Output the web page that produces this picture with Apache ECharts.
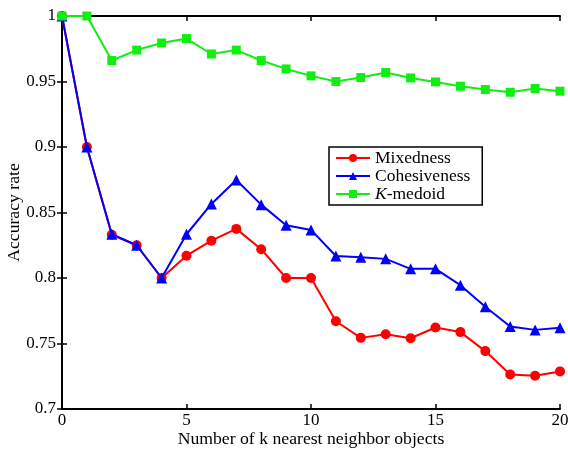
<!DOCTYPE html>
<html><head><meta charset="utf-8">
<script src="https://cdn.jsdelivr.net/npm/echarts@6/dist/echarts.min.js"></script>
<style>html,body{margin:0;padding:0;background:#fff}#c{width:568px;height:451px}</style>
</head><body><div id="c"></div>
<script>
const kValues = [0,1,2,3,4,5,6,7,8,9,10,11,12,13,14,15,16,17,18,19,20];
const mixedness = [1.0,0.9,0.833,0.825,0.8,0.817,0.8285,0.8375,0.822,0.8,0.8,0.767,0.7543,0.757,0.754,0.7622,0.7587,0.7442,0.7264,0.7254,0.7287];
const cohesiveness = [1.0,0.9,0.8334,0.825,0.8,0.8334,0.8565,0.8748,0.856,0.8403,0.8367,0.8168,0.8158,0.8146,0.807,0.807,0.7945,0.778,0.763,0.7604,0.762];
const kmedoid = [1.0,1.0,0.966,0.974,0.9794,0.9828,0.971,0.974,0.966,0.9596,0.9543,0.950,0.953,0.9569,0.9527,0.9497,0.9464,0.9439,0.9418,0.9447,0.9426];
const seriesNames = ['Mixedness','Cohesiveness','K-medoid'];
const xTitle = 'Number of k nearest neighbor objects';
const yTitle = 'Accuracy rate';

const font = 'Liberation Serif, Times New Roman, serif';
const chart = echarts.init(document.getElementById('c'), null, {renderer:'canvas'});
const pair = arr => arr.map((v,i)=>[kValues[i], v]);
const axisLine = {show:true, lineStyle:{color:'#000', width:2}};
const tick = {show:true, inside:true, length:5, lineStyle:{color:'#000', width:1.5}};
chart.setOption({
  animation:false,
  backgroundColor:'#fff',
  grid:{left:62, right:8, top:16, bottom:42, containLabel:false, outerBoundsMode:'none'},
  legend:{
    orient:'vertical', left:329, top:147,
    backgroundColor:'#fff', borderColor:'#000', borderWidth:1.5,
    padding:[2,12,2,6], itemGap:0, itemWidth:34, itemHeight:10,
    textStyle:{fontFamily:font, fontSize:17.5, color:'#000', lineHeight:17,
      rich:{i:{fontFamily:font, fontStyle:'italic', fontSize:17.5, lineHeight:17, color:'#000'},
            n:{fontFamily:font, fontSize:17.5, lineHeight:17, color:'#000'}}},
    formatter: n => n === 'K-medoid' ? '{i|K}{n|-medoid}' : n,
    data: seriesNames
  },
  xAxis:[{
    type:'value', min:0, max:20, interval:5,
    name:xTitle, nameLocation:'middle', nameGap:21, nameMoveOverlap:false,
    nameTextStyle:{fontFamily:font, fontSize:17.7, color:'#000'},
    axisLine, axisTick:tick, splitLine:{show:false},
    axisLabel:{fontFamily:font, fontSize:17, color:'#000', margin:3}
  },{
    type:'value', min:0, max:20, interval:5, position:'top',
    axisLine, axisTick:tick, splitLine:{show:false}, axisLabel:{show:false}
  }],
  yAxis:[{
    type:'value', min:0.7, max:1.0, interval:0.05,
    name:yTitle, nameLocation:'middle', nameGap:39, nameMoveOverlap:false,
    nameTextStyle:{fontFamily:font, fontSize:17.7, color:'#000'},
    axisLine, axisTick:tick, splitLine:{show:false},
    axisLabel:{fontFamily:font, fontSize:17, color:'#000', margin:6,
      formatter: v => String(parseFloat(v.toFixed(2)))}
  },{
    type:'value', min:0.7, max:1.0, interval:0.05, position:'right',
    axisLine, axisTick:tick, splitLine:{show:false}, axisLabel:{show:false}
  }],
  series:[
    {name:seriesNames[0], type:'line', data:pair(mixedness), symbol:'circle', symbolSize:10,
     lineStyle:{color:'#ff0000', width:2}, itemStyle:{color:'#ff0000'}, z:3},
    {name:seriesNames[1], type:'line', data:pair(cohesiveness), symbol:'triangle', symbolSize:11,
     lineStyle:{color:'#0000ff', width:2}, itemStyle:{color:'#0000ff'}, z:4},
    {name:seriesNames[2], type:'line', data:pair(kmedoid), symbol:'rect', symbolSize:9,
     lineStyle:{color:'#11ee11', width:2}, itemStyle:{color:'#11ee11'}, z:5}
  ]
});
</script></body></html>
